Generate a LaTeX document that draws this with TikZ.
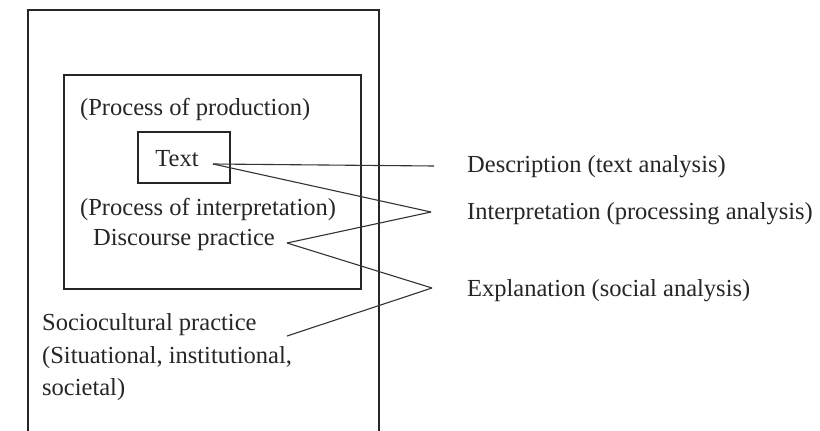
\documentclass[tikz,border=0pt]{standalone}
\usepackage{fontspec}
\setmainfont{Liberation Serif}
\begin{document}
\begin{tikzpicture}[x=1pt,y=-1pt,
  boxline/.style={draw=black!85, line width=1.6pt},
  conn/.style={draw=black!80, line width=1.1pt},
  lbl/.style={font=\fontsize{24.5}{28}\selectfont, text=black!85, inner sep=0pt},
  lblL/.style={lbl, anchor=west}]
\useasboundingbox[fill=white] (0,0) rectangle (820,431);
% boxes
\node[boxline, minimum width=351pt, minimum height=440pt, anchor=north west, inner sep=0pt] (outer) at (27,9) {};
\node[boxline, minimum width=297pt, minimum height=214pt, anchor=north west, inner sep=0pt] (middle) at (63,74) {};
\node[boxline, minimum width=92pt, minimum height=51pt, anchor=north west, inner sep=0pt] (textbox) at (137,131) {};
% texts
\node[lblL] (prod) at (80,109) {(Process of production)};
\node[lbl] (text) at (177,159) {Text};
\node[lblL] (interp) at (80,209) {(Process of interpretation)};
\node[lblL] (disc) at (93,240) {Discourse practice};
\node[lblL] (socio) at (42,325) {Sociocultural practice};
\node[lblL] (sit) at (42,358) {(Situational, institutional,};
\node[lblL] (soc) at (42,390) {societal)};
\node[lblL] (desc) at (467,167) {Description (text analysis)};
\node[lblL] (interpR) at (467,214) {Interpretation (processing analysis)};
\node[lblL] (expl) at (467,291) {Explanation (social analysis)};
% junction points
\coordinate (tx) at (213,164);
\coordinate (dx) at (287,243);
\coordinate (sx) at (287,336);
\coordinate (jd) at (434,166);
\coordinate (ji) at (431,212);
\coordinate (je) at (432,288);
% connectors
\draw[conn] (tx) -- (jd);
\draw[conn] (tx) -- (ji);
\draw[conn] (dx) -- (ji);
\draw[conn] (dx) -- (je);
\draw[conn] (sx) -- (je);
\end{tikzpicture}
\end{document}
